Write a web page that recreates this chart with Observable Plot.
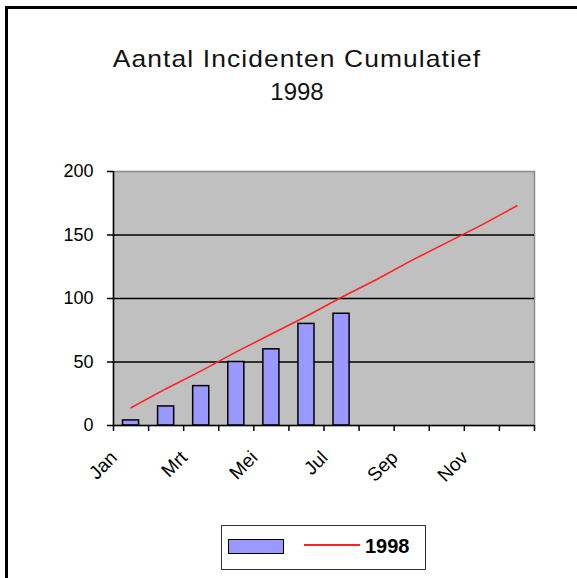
<!DOCTYPE html>
<html>
<head>
<meta charset="utf-8">
<script src="https://cdn.jsdelivr.net/npm/d3@7"></script>
<script src="https://cdn.jsdelivr.net/npm/@observablehq/plot@0.6"></script>
<style>
  body { margin: 0; background: #fff; }
  #wrap { position: relative; width: 577px; height: 578px; overflow: hidden; background: #fff; font-family: "Liberation Sans", Arial, sans-serif; color: #000; }
  #frame { position: absolute; left: 5px; top: 6px; width: 600px; height: 600px; border-top: 3px solid #000; border-left: 3px solid #000; box-sizing: border-box; }
  .title { position: absolute; left: 0; width: 594px; text-align: center; font-size: 24px; line-height: 24px; color: #111; transform-origin: 297px 50%; }
  #chart { position: absolute; left: 0; top: 0; }
  #legend { position: absolute; left: 221px; top: 525px; width: 205px; height: 45px; border: 1.5px solid #333; box-sizing: border-box; background: #fff; }
  #swatch { position: absolute; left: 6px; top: 13px; width: 56px; height: 15px; background: #9999ff; border: 1.5px solid #000; box-sizing: border-box; }
  #lineSw { position: absolute; left: 82px; top: 18px; width: 56px; height: 2px; background: #ff2020; }
  #legText { position: absolute; left: 143px; top: 8px; font-size: 20px; font-weight: bold; line-height: 24px; }
</style>
</head>
<body>
<div id="wrap">
  <div id="frame"></div>
  <div class="title" id="t1" style="top:47px; letter-spacing:1px; transform: scaleX(1.1);"></div>
  <div class="title" id="t2" style="top:80px;"></div>
  <div id="chart"></div>
  <div id="legend"><div id="swatch"></div><div id="lineSw"></div><div id="legText"></div></div>
</div>
<script>
const titleLine1 = "Aantal Incidenten Cumulatief";
const titleLine2 = "1998";
const seriesName = "1998";
const months = ["Jan","Feb","Mrt","Apr","Mei","Jun","Jul","Aug","Sep","Okt","Nov","Dec"];
const incidents = [4, 15, 31, 50, 60, 80, 88];
const norm = [14, 29, 43, 58, 72, 86, 101, 115, 130, 144, 158, 173];
const yTicks = [0, 50, 100, 150, 200];
const xTickLabels = ["Jan","Mrt","Mei","Jul","Sep","Nov"];

document.getElementById("t1").textContent = titleLine1;
document.getElementById("t2").textContent = titleLine2;
document.getElementById("legText").textContent = seriesName;

const barData = incidents.map((v, i) => ({i, v}));
const lineData = norm.map((v, i) => ({i, v}));
const labelData = xTickLabels.map(m => ({i: months.indexOf(m), m}));
const boundaries = d3.range(months.length + 1);

const chart = Plot.plot({
  width: 577,
  height: 500,
  marginLeft: 113,
  marginRight: 43,
  marginTop: 171,
  marginBottom: 75,
  style: {fontFamily: "Liberation Sans, Arial, sans-serif", fontSize: "18px", color: "#000", background: "transparent", overflow: "visible"},
  x: {type: "linear", domain: [0, months.length], label: null},
  y: {domain: [0, 200], label: null},
  marks: [
    Plot.frame({fill: "#c0c0c0", stroke: "#8a8a8a", strokeWidth: 1.5}),
    Plot.ruleY(yTicks.filter(t => t > 0 && t < 200), {stroke: "#000", strokeWidth: 1.5}),
    Plot.rectY(barData, {x1: d => d.i, x2: d => d.i + 1, y: "v", insetLeft: 9.5, insetRight: 9.5, fill: "#9999ff", stroke: "#000", strokeWidth: 1.5}),
    Plot.lineY(lineData, {x: d => d.i + 0.5, y: "v", stroke: "#ff2020", strokeWidth: 1.6}),
    Plot.ruleX([0], {stroke: "#000", strokeWidth: 1.5}),
    Plot.ruleY([0], {stroke: "#000", strokeWidth: 1.5}),
    Plot.axisY({ticks: yTicks, tickSize: 6, tickPadding: 14, label: null, stroke: "#000", strokeWidth: 1.5, fontSize: 18}),
    Plot.axisX({ticks: boundaries, tickSize: 6, tickFormat: () => "", label: null, stroke: "#000", strokeWidth: 1.5}),
    Plot.text(labelData, {x: d => d.i + 0.5, y: () => 0, text: "m", rotate: -45, textAnchor: "end", dx: -17, dy: 29, fontSize: 19, fill: "#000"})
  ]
});
document.getElementById("chart").appendChild(chart);
</script>
</body>
</html>
